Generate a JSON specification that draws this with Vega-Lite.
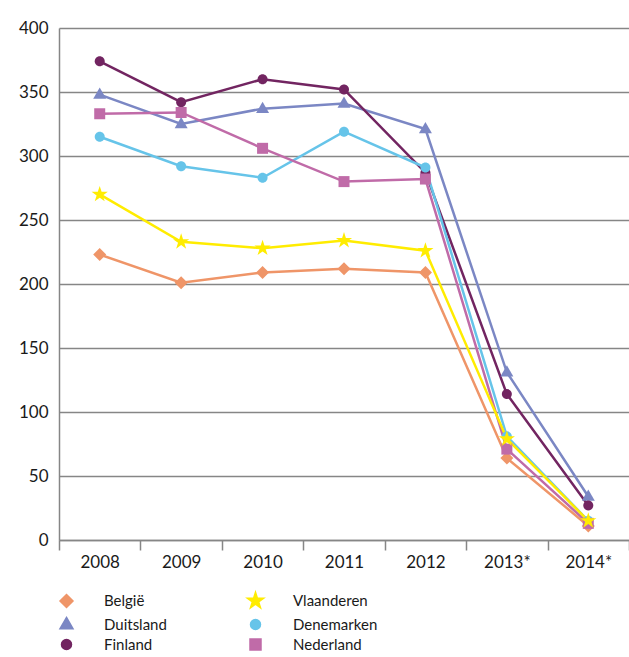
{
  "$schema": "https://vega.github.io/schema/vega-lite/v6.json",
  "width": 570,
  "height": 512,
  "autosize": "none",
  "padding": {"left": 59, "top": 28, "right": 0, "bottom": 117},
  "background": "#ffffff",
  "config": {
    "font": "Lato",
    "view": {"stroke": null},
    "axis": {"labelFont": "Lato", "labelFontSize": 17, "labelColor": "#1a1a1a", "domainColor": "#868686", "gridColor": "#868686", "tickColor": "#868686", "domainWidth": 1.5, "gridWidth": 1.5, "tickWidth": 1.5}
  },
  "data": {
    "values": [
      {"series": "België", "year": "2008", "value": 223},
      {"series": "België", "year": "2009", "value": 201},
      {"series": "België", "year": "2010", "value": 209},
      {"series": "België", "year": "2011", "value": 212},
      {"series": "België", "year": "2012", "value": 209},
      {"series": "België", "year": "2013*", "value": 64},
      {"series": "België", "year": "2014*", "value": 11},
      {"series": "Duitsland", "year": "2008", "value": 348},
      {"series": "Duitsland", "year": "2009", "value": 325},
      {"series": "Duitsland", "year": "2010", "value": 337},
      {"series": "Duitsland", "year": "2011", "value": 341},
      {"series": "Duitsland", "year": "2012", "value": 321},
      {"series": "Duitsland", "year": "2013*", "value": 131},
      {"series": "Duitsland", "year": "2014*", "value": 34},
      {"series": "Finland", "year": "2008", "value": 374},
      {"series": "Finland", "year": "2009", "value": 342},
      {"series": "Finland", "year": "2010", "value": 360},
      {"series": "Finland", "year": "2011", "value": 352},
      {"series": "Finland", "year": "2012", "value": 287},
      {"series": "Finland", "year": "2013*", "value": 114},
      {"series": "Finland", "year": "2014*", "value": 27},
      {"series": "Denemarken", "year": "2008", "value": 315},
      {"series": "Denemarken", "year": "2009", "value": 292},
      {"series": "Denemarken", "year": "2010", "value": 283},
      {"series": "Denemarken", "year": "2011", "value": 319},
      {"series": "Denemarken", "year": "2012", "value": 291},
      {"series": "Denemarken", "year": "2013*", "value": 81},
      {"series": "Denemarken", "year": "2014*", "value": 15},
      {"series": "Nederland", "year": "2008", "value": 333},
      {"series": "Nederland", "year": "2009", "value": 334},
      {"series": "Nederland", "year": "2010", "value": 306},
      {"series": "Nederland", "year": "2011", "value": 280},
      {"series": "Nederland", "year": "2012", "value": 282},
      {"series": "Nederland", "year": "2013*", "value": 71},
      {"series": "Nederland", "year": "2014*", "value": 13},
      {"series": "Vlaanderen", "year": "2008", "value": 270},
      {"series": "Vlaanderen", "year": "2009", "value": 233},
      {"series": "Vlaanderen", "year": "2010", "value": 228},
      {"series": "Vlaanderen", "year": "2011", "value": 234},
      {"series": "Vlaanderen", "year": "2012", "value": 226},
      {"series": "Vlaanderen", "year": "2013*", "value": 79},
      {"series": "Vlaanderen", "year": "2014*", "value": 15}
    ]
  },
  "encoding": {
    "x": {
      "field": "year", "type": "ordinal",
      "scale": {"type": "band", "paddingInner": 0, "paddingOuter": 0},
      "axis": {"title": null, "labelAngle": 0, "tickBand": "extent", "tickSize": 10, "labelPadding": 4, "grid": false}
    },
    "y": {
      "field": "value", "type": "quantitative",
      "scale": {"domain": [0, 400], "nice": false},
      "axis": {"title": null, "values": [0, 50, 100, 150, 200, 250, 300, 350, 400], "ticks": false, "labelPadding": 11, "grid": true}
    },
    "color": {
      "field": "series", "type": "nominal",
      "scale": {
        "domain": ["België", "Duitsland", "Finland", "Vlaanderen", "Denemarken", "Nederland"],
        "range": ["#ef9568", "#7b87c4", "#722561", "#ffec00", "#66c4e9", "#c06ba8"]
      },
      "legend": {
        "title": null,
        "orient": "none",
        "legendX": 0,
        "legendY": 565,
        "columns": 2,
        "padding": 0,
        "rowPadding": 3,
        "columnPadding": 77,
        "labelFont": "Lato",
        "labelFontSize": 15,
        "labelColor": "#1a1a1a",
        "labelOffset": 30,
        "symbolSize": 100,
        "encode": {
          "symbols": {
            "update": {
              "fill": {"scale": "color", "field": "value"}
            },
            "shape": {"value": {"expr": "datum.value == 'België' ? 'M-3.9,-0.25H3.9V0.25H-3.9ZM0,-1.3L1.3,0L0,1.3L-1.3,0Z' : datum.value == 'Duitsland' ? 'M-3.9,-0.25H3.9V0.25H-3.9ZM0,-1.4L1.3,0.85L-1.3,0.85Z' : datum.value == 'Vlaanderen' ? 'M-3.9,-0.25H3.9V0.25H-3.9ZM0,-1.7L0.38,-0.52L1.62,-0.52L0.62,0.2L1,1.38L0,0.65L-1,1.38L-0.62,0.2L-1.62,-0.52L-0.38,-0.52Z' : datum.value == 'Nederland' ? 'M-3.9,-0.25H3.9V0.25H-3.9ZM-1.1,-1.1H1.1V1.1H-1.1Z' : 'M-3.9,-0.25H3.9V0.25H-3.9ZM1,0A1,1,0,1,1,-1,0A1,1,0,1,1,1,0Z'"}},
            "fillOpacity": {"value": 1}
          }
        }
      }
    }
  },
  "layer": [
    {
      "mark": {"type": "line", "strokeWidth": 2.5},
      "encoding": {
        "detail": {"field": "series"}
      }
    },
    {
      "mark": {"type": "point", "filled": true, "opacity": 1, "size": 100},
      "encoding": {
        "shape": {
          "field": "series", "type": "nominal", "legend": null,
          "scale": {
            "domain": ["België", "Duitsland", "Finland", "Vlaanderen", "Denemarken", "Nederland"],
            "range": [
              "M0,-1.3L1.3,0L0,1.3L-1.3,0Z",
              "M0,-1.4L1.3,0.85L-1.3,0.85Z",
              "M1,0A1,1,0,1,1,-1,0A1,1,0,1,1,1,0Z",
              "M0,-1.7L0.38,-0.52L1.62,-0.52L0.62,0.2L1,1.38L0,0.65L-1,1.38L-0.62,0.2L-1.62,-0.52L-0.38,-0.52Z",
              "M1,0A1,1,0,1,1,-1,0A1,1,0,1,1,1,0Z",
              "M-1.1,-1.1H1.1V1.1H-1.1Z"
            ]
          }
        }
      }
    }
  ]
}
